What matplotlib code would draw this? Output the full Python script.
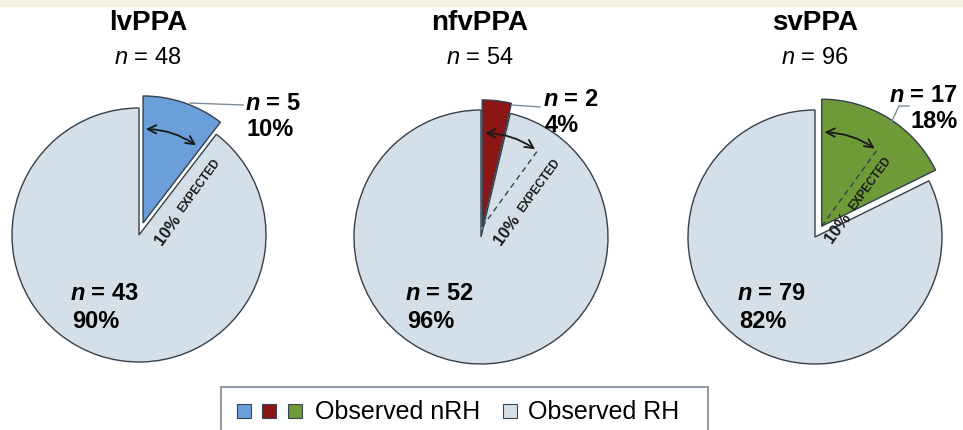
import matplotlib.pyplot as plt
import numpy as np
from matplotlib.patches import Rectangle, FancyArrowPatch

plt.rcParams['font.family'] = ['Liberation Sans', 'DejaVu Sans']
plt.rcParams['mathtext.fontset'] = 'custom'
plt.rcParams['mathtext.rm'] = 'Liberation Sans'
plt.rcParams['mathtext.it'] = 'Liberation Sans:italic'
plt.rcParams['mathtext.bf'] = 'Liberation Sans:bold'
plt.rcParams['mathtext.bfit'] = 'Liberation Sans:bold:italic'

# data
groups = ['lvPPA', 'nfvPPA', 'svPPA']
n_total = [48, 54, 96]
n_nrh = [5, 2, 17]
n_rh = [43, 52, 79]
expected_pct = 10
nrh_colors = ['#6b9fd9', '#8c1515', '#6f9a38']
rh_color = '#d5dfe7'
legend_labels = ['Observed nRH', 'Observed RH']

# layout (pixels, measured from the top-left corner)
W, H = 963, 431
R = 127
centers = [(139, 236), (481, 238), (815, 238)]
explode = [0.1, 0.08, 0.1]
title_x = [148, 480, 815]
nrh_label_pos = [(245, 103), (543, 100), (958, 95)]
nrh_label_ha = ['left', 'left', 'right']
rh_label_pos = [(70, 293), (405, 294), (737, 293)]
leaders = [[(190, 104), (243, 106)],
           [(512, 106), (540, 108)],
           [(890, 126), (899, 107), (909, 107)]]
exp_perp = [0.155, 0.13, 0.105]
edge = '#34404d'


def px(x, y):
    return x, H - y


fig = plt.figure(figsize=(W / 100, H / 100), dpi=100)
ax = fig.add_axes([0, 0, 1, 1])

for i, g in enumerate(groups):
    cx, cy = px(*centers[i])
    # pie explode is in data units, so scale by the radius
    ax.pie([n_nrh[i], n_rh[i]], colors=[nrh_colors[i], rh_color],
           explode=[explode[i] * R, 0], startangle=90, counterclock=False,
           center=(cx, cy), radius=R,
           wedgeprops=dict(edgecolor=edge, linewidth=1.0))

    # titles
    ax.text(*px(title_x[i], 23), g, fontsize=20, fontweight='bold',
            ha='center', va='center')
    ax.text(*px(title_x[i], 58), r'$\mathit{n}$ = %d' % n_total[i],
            fontsize=17, ha='center', va='center')

    # slice labels
    frac = n_nrh[i] / n_total[i]
    lx, ly = nrh_label_pos[i]
    ax.text(*px(lx, ly), r'$\mathbfit{n}$ = %d' % n_nrh[i], fontsize=17,
            fontweight='bold', ha=nrh_label_ha[i], va='center')
    ax.text(*px(lx + (2 if nrh_label_ha[i] == 'left' else 0), ly + 26),
            '%d%%' % round(100 * frac), fontsize=17, fontweight='bold',
            ha=nrh_label_ha[i], va='center')
    lx, ly = rh_label_pos[i]
    ax.text(*px(lx, ly), r'$\mathbfit{n}$ = %d' % n_rh[i], fontsize=17,
            fontweight='bold', ha='left', va='center')
    ax.text(*px(lx + 2, ly + 28), '%d%%' % round(100 * n_rh[i] / n_total[i]),
            fontsize=17, fontweight='bold', ha='left', va='center')

    pts = np.array([px(*p) for p in leaders[i]])
    ax.plot(pts[:, 0], pts[:, 1], color='#7d8b99', lw=1)

    # expected 10% marker
    th = np.deg2rad(90 - 360 * expected_pct / 100)
    mid = np.deg2rad(90 - 180 * frac)
    vx = cx + explode[i] * R * np.cos(mid)
    vy = cy + explode[i] * R * np.sin(mid)
    r = 0.74 * R
    a = (vx, vy + r)
    b = (vx + r * np.cos(th), vy + r * np.sin(th))
    rad = -np.tan(np.deg2rad(18)) / 2
    ax.add_patch(FancyArrowPatch(a, b, arrowstyle='<->', mutation_scale=15,
                                 connectionstyle='arc3,rad=%.3f' % rad,
                                 color='#1a1a1a', lw=1.3))
    if abs(frac - expected_pct / 100) > 0.02:
        ax.plot([vx, b[0]], [vy, b[1]], color=edge, lw=1, ls=(0, (4, 3)))

    u = np.array([np.cos(th), np.sin(th)])
    p = np.array([np.sin(th), -np.cos(th)])
    c = np.array([cx, cy])
    t1 = c + R * (0.17 * u + exp_perp[i] * p)
    t2 = c + R * (0.60 * u + exp_perp[i] * p)
    ax.text(t1[0], t1[1], '10%', fontsize=12, fontweight='bold',
            rotation=np.rad2deg(th), rotation_mode='anchor',
            ha='center', va='center', color='#1a1a1a')
    ax.text(t2[0], t2[1], 'EXPECTED', fontsize=8.5, fontweight='bold',
            rotation=np.rad2deg(th), rotation_mode='anchor',
            ha='center', va='center', color='#1a1a1a')

# beige strip at the top
ax.add_patch(Rectangle((0, H - 8), W, 8, color='#f6f2e6', lw=0))

# legend
ax.add_patch(Rectangle((221, -9), 487, 52, fill=False, ec='#8793a0', lw=1.3))
sq = 14
for x, col in zip([237, 262, 288], nrh_colors):
    ax.add_patch(Rectangle((x, 19 - sq / 2), sq, sq, fc=col, ec='#3a4550', lw=0.8))
ax.text(315, 19, legend_labels[0], fontsize=18, ha='left', va='center')
ax.add_patch(Rectangle((503, 19 - sq / 2), sq, sq, fc=rh_color, ec='#3a4550', lw=0.8))
ax.text(528, 19, legend_labels[1], fontsize=18, ha='left', va='center')

ax.set_xlim(0, W)
ax.set_ylim(0, H)
ax.set_aspect('auto')
ax.axis('off')

fig.savefig('out.png', dpi=100)
